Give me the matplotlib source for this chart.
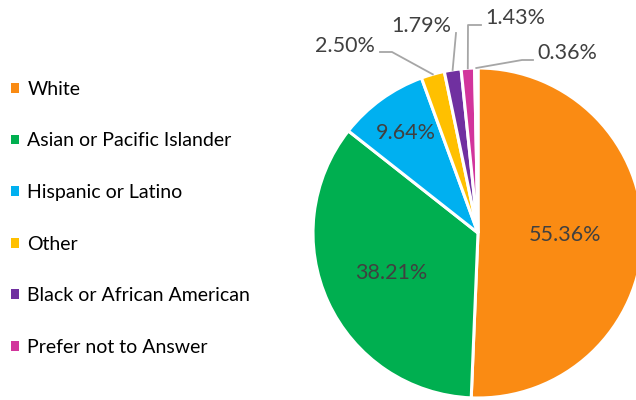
import numpy as np
import matplotlib
matplotlib.use("Agg")
import matplotlib.pyplot as plt
from matplotlib.patches import Patch

plt.rcParams['font.family'] = ['Lato', 'DejaVu Sans']

# data
groups = ['White', 'Asian or Pacific Islander', 'Hispanic or Latino', 'Other',
          'Black or African American', 'Prefer not to Answer', '']
shares = [55.36, 38.21, 9.64, 2.50, 1.79, 1.43, 0.36]
colors = ['#FA8B13', '#00AF50', '#00B0F0', '#FFC000', '#7030A0', '#D2359C', '#FFFFFF']

W, H = 636, 400
fig = plt.figure(figsize=(W / 100, H / 100), dpi=100)

# pie centre / radius in pixels
cx, cy, R = 478, 233, 165
ax = fig.add_axes([(cx - R) / W, (H - cy - R) / H, 2 * R / W, 2 * R / H])
wedges, _ = ax.pie(shares, colors=colors, startangle=90, counterclock=False,
                   radius=1, wedgeprops=dict(edgecolor='white', linewidth=2.2))
ax.set_xlim(-1, 1)
ax.set_ylim(-1, 1)
ax.set_aspect('equal')
ax.axis('off')


def px(x, y):
    # pixel (from top-left) -> data coords of pie axes
    return (x - cx) / R, (cy - y) / R


# mid-angles of the wedges
mids = [np.deg2rad((w.theta1 + w.theta2) / 2) for w in wedges]
lbl = [f'{v:.2f}%' for v in shares]
txt_col = '#404040'
fs = 15.5

# labels inside the big slices
inner_r = [0.53, 0.58, 0.75]
for i, r in enumerate(inner_r):
    ax.text(r * np.cos(mids[i]), r * np.sin(mids[i]), lbl[i], ha='center', va='center',
            fontsize=fs, color=txt_col)

# outside labels with leader lines: (elbow points, text pos, ha)
outside = {
    3: ([(392, 52), (380, 52)], (375, 46), 'right'),
    4: ([(456, 33)], (451, 26), 'right'),
    5: ([(468, 25), (481, 25)], (485, 18), 'left'),
    6: ([(522, 60), (533, 60)], (537, 53), 'left'),
}
for i, (pts, tpos, ha) in outside.items():
    xs = [np.cos(mids[i])]
    ys = [np.sin(mids[i])]
    for p in pts:
        x, y = px(*p)
        xs.append(x)
        ys.append(y)
    ax.plot(xs, ys, color='#A6A6A6', lw=1.3, clip_on=False)
    tx, ty = px(*tpos)
    ax.text(tx, ty, lbl[i], ha=ha, va='center', fontsize=fs, color=txt_col, clip_on=False)

handles = [Patch(facecolor=c, edgecolor='none') for c in colors[:6]]
fig.legend(handles, groups[:6], loc='upper left', bbox_to_anchor=(3 / W, 1 - 73 / H),
           frameon=False, fontsize=14, labelspacing=1.78, handlelength=0.4,
           handleheight=0.4, handletextpad=0.45, borderaxespad=0)

fig.savefig('out.png', dpi=100)
